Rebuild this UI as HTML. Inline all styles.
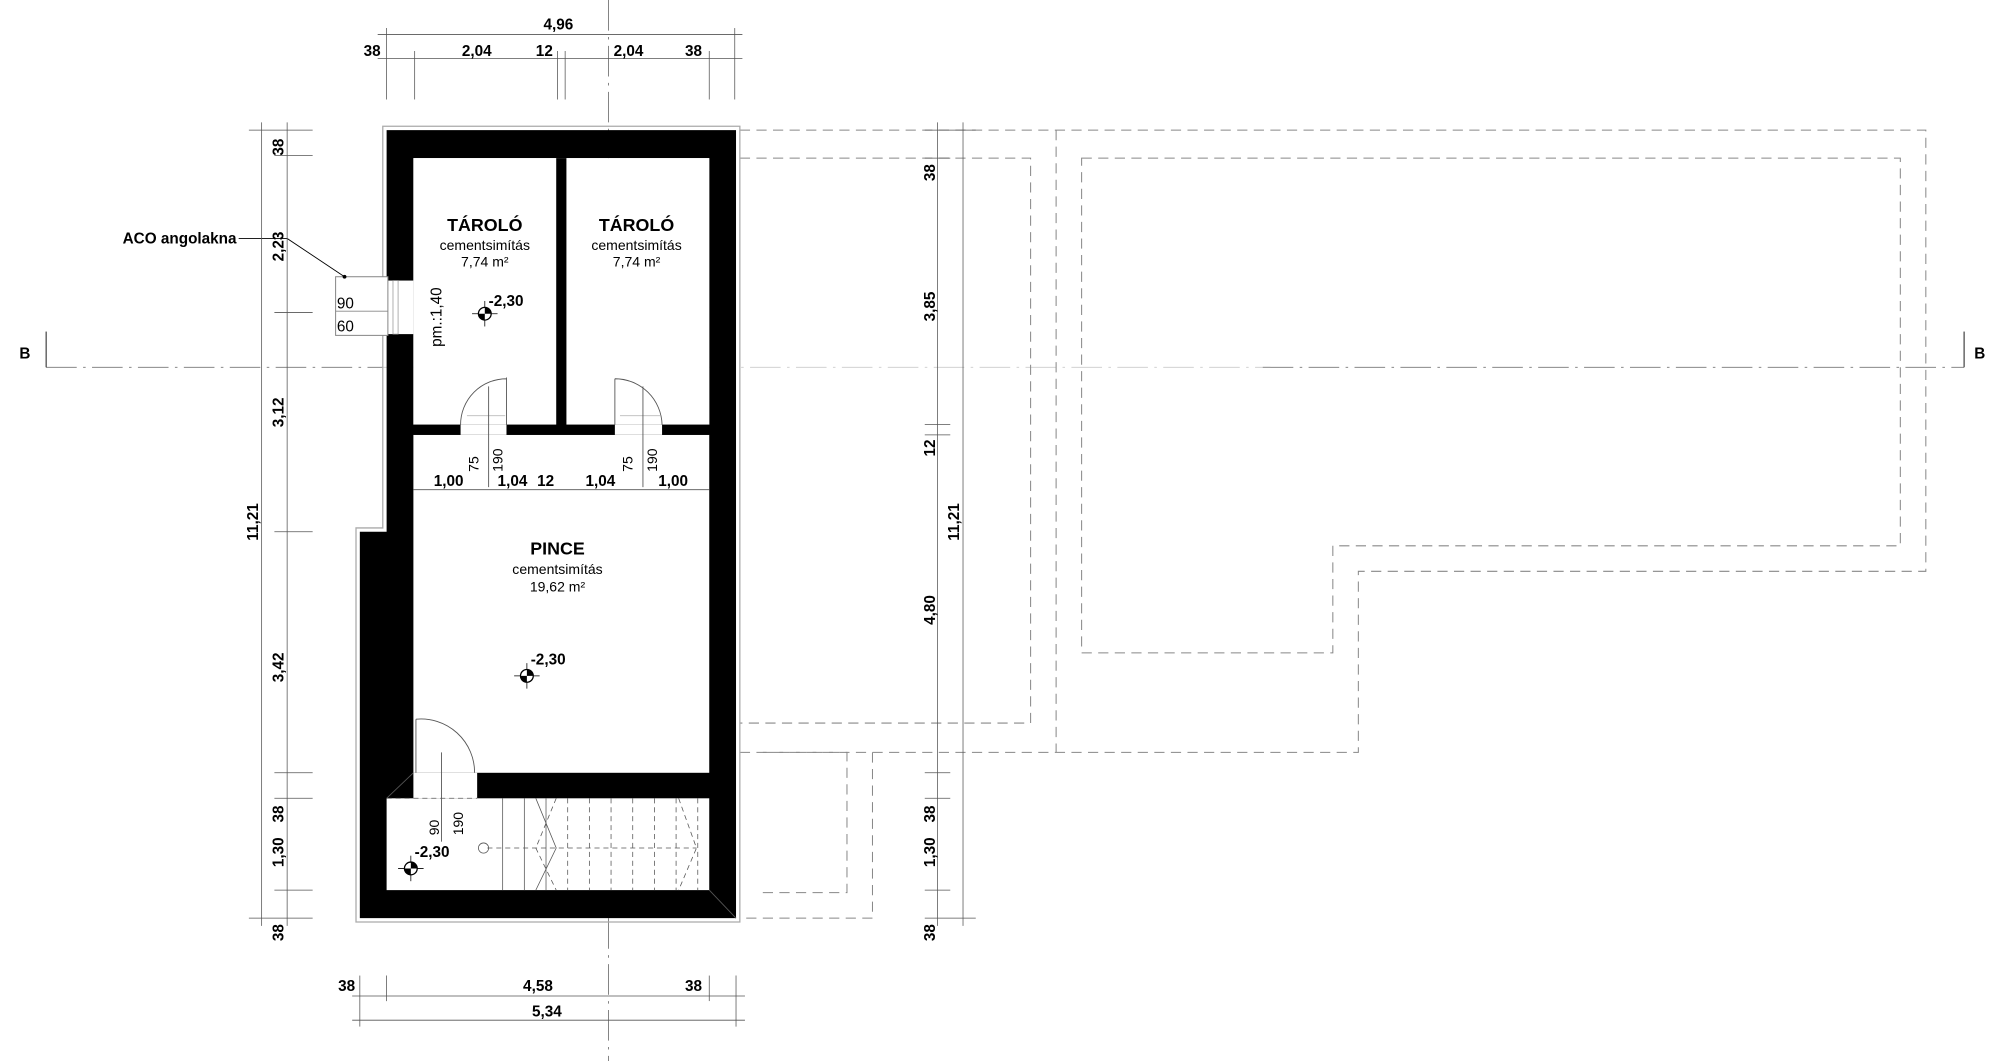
<!DOCTYPE html>
<html><head><meta charset="utf-8"><style>
html,body{margin:0;padding:0;background:#fff;}
svg{display:block;}
.d{font-family:"Liberation Sans",sans-serif;font-weight:bold;font-size:12px;fill:#000;}
.t{font-family:"Liberation Sans",sans-serif;fill:#000;}
</style></head><body>
<svg width="2000" height="1061" viewBox="0 0 1568 832" xmlns="http://www.w3.org/2000/svg">
<rect width="1568" height="832" fill="#fff"/>
<line x1="477" y1="0" x2="477" y2="832" stroke="#777" stroke-width="0.7" stroke-dasharray="24,5,2,5"/>
<line x1="36" y1="288" x2="300" y2="288" stroke="#777" stroke-width="0.7" stroke-dasharray="24,5,2,5"/>
<line x1="300" y1="288" x2="990" y2="288" stroke="#ccc" stroke-width="0.7" stroke-dasharray="24,5,2,5"/>
<line x1="990" y1="288" x2="1540" y2="288" stroke="#777" stroke-width="0.7" stroke-dasharray="24,5,2,5"/>
<line x1="36" y1="260" x2="36" y2="288" stroke="#000" stroke-width="0.7"/>
<line x1="1540" y1="260" x2="1540" y2="288" stroke="#000" stroke-width="0.7"/>
<text x="15" y="281" class="d" font-size="15">B</text>
<text x="1548" y="281" class="d" font-size="15">B</text>
<g fill="none" stroke="#888" stroke-width="0.8" stroke-dasharray="8,5">
<polyline points="580,102 1510,102 1510,448 1065,448 1065,590 580,590"/>
<line x1="828" y1="102" x2="828" y2="590"/>
<polyline points="580,124 808,124 808,567 580,567"/>
<polygon points="848,124 1490,124 1490,428 1045,428 1045,512 848,512"/>
<polyline points="598,590 664,590 664,700 598,700"/>
<polyline points="684,590 684,720 580,720"/>
</g>
<polygon points="300,99 580,99 580,723 279,723 279,414 300,414" fill="none" stroke="#aaa" stroke-width="1"/>
<path d="M303,102 H577 V720 H282 V417 H303 Z M324,124 V333 H556 V124 Z" fill="#000" fill-rule="evenodd"/>
<rect x="324" y="124" width="112" height="209" fill="#fff"/>
<rect x="444" y="124" width="112" height="209" fill="#fff"/>
<rect x="436" y="124" width="8" height="210" fill="#000"/>
<rect x="324" y="341" width="232" height="265" fill="#fff"/>
<rect x="303" y="626" width="253" height="72" fill="#fff"/>
<rect x="324" y="606" width="50" height="20" fill="#fff"/>
<rect x="324" y="333" width="232" height="8" fill="#000"/>
<rect x="361" y="333" width="36" height="8" fill="#fff"/>
<rect x="482" y="333" width="37" height="8" fill="#fff"/>
<rect x="303" y="220" width="21" height="42" fill="#fff"/>
<rect x="263" y="217" width="41" height="46" fill="#fff" stroke="#888" stroke-width="0.8"/>
<line x1="263" y1="244" x2="304" y2="244" stroke="#888" stroke-width="0.7"/>
<rect x="308" y="220" width="4" height="42" fill="none" stroke="#999" stroke-width="0.6"/>
<text x="264" y="242" class="t" font-size="12">90</text>
<text x="264" y="260" class="t" font-size="12">60</text>
<text x="346" y="272" class="t" font-size="12" transform="rotate(-90 346 272)">pm.:1,40</text>
<polyline points="187,187 225,187 270,217" fill="none" stroke="#000" stroke-width="0.7"/>
<circle cx="270" cy="217" r="1.5"/>
<text x="96" y="191" class="d" font-size="12">ACO angolakna</text>
<g fill="none" stroke="#555" stroke-width="0.7">
<path d="M397,296 V333 M361,333 A36,36 0 0 1 397,297"/>
<path d="M482,297 V333 M519,333 A37,37 0 0 0 482,297"/>
<path d="M326,564 V606 M326,564 A42,42 0 0 1 372,606"/>
<line x1="366" y1="326" x2="396" y2="326" stroke="#bbb"/>
<line x1="486" y1="326" x2="518" y2="326" stroke="#bbb"/>
<line x1="383" y1="303" x2="383" y2="382"/>
<line x1="504" y1="303" x2="504" y2="382"/>
<line x1="346" y1="590" x2="346" y2="660"/>
<line x1="303" y1="626" x2="324" y2="606"/>
<line x1="556" y1="698" x2="577" y2="720"/>
</g>
<g stroke="#555" stroke-width="0.6" fill="none">
<line x1="303" y1="626" x2="374" y2="626" stroke-dasharray="4,3"/>
<line x1="394" y1="626" x2="394" y2="698"/><line x1="411" y1="626" x2="411" y2="698"/>
<line x1="428" y1="626" x2="428" y2="698"/><line x1="445" y1="626" x2="445" y2="698" stroke-dasharray="4,3"/>
<line x1="462" y1="626" x2="462" y2="698" stroke-dasharray="4,3"/><line x1="479" y1="626" x2="479" y2="698" stroke-dasharray="4,3"/>
<line x1="496" y1="626" x2="496" y2="698" stroke-dasharray="4,3"/><line x1="513" y1="626" x2="513" y2="698" stroke-dasharray="4,3"/>
<line x1="530" y1="626" x2="530" y2="698" stroke-dasharray="4,3"/><line x1="547" y1="626" x2="547" y2="698" stroke-dasharray="4,3"/>
<polyline points="420,626 436,665 420,698"/>
<polyline points="436,626 420,665 436,698" stroke-dasharray="4,3"/>
<polyline points="532,626 546,665 532,698" stroke-dasharray="4,3"/>
<line x1="382" y1="665" x2="546" y2="665" stroke-dasharray="4,3"/>
<circle cx="379" cy="665" r="4"/>
</g>
<text x="380" y="181" class="t" font-size="14" font-weight="bold" text-anchor="middle">TÁROLÓ</text>
<text x="380" y="196" class="t" font-size="11" text-anchor="middle">cementsimítás</text>
<text x="380" y="209" class="t" font-size="11" text-anchor="middle">7,74 m²</text>
<text x="499" y="181" class="t" font-size="14" font-weight="bold" text-anchor="middle">TÁROLÓ</text>
<text x="499" y="196" class="t" font-size="11" text-anchor="middle">cementsimítás</text>
<text x="499" y="209" class="t" font-size="11" text-anchor="middle">7,74 m²</text>
<text x="437" y="435" class="t" font-size="14" font-weight="bold" text-anchor="middle">PINCE</text>
<text x="437" y="450" class="t" font-size="11" text-anchor="middle">cementsimítás</text>
<text x="437" y="464" class="t" font-size="11" text-anchor="middle">19,62 m²</text>
<g>
<g transform="translate(380,246)"><line x1="-10" y1="0" x2="10" y2="0" stroke="#000" stroke-width="0.6"/><line x1="0" y1="-10" x2="0" y2="10" stroke="#000" stroke-width="0.6"/><circle r="5" fill="#fff" stroke="#000"/><path d="M0,-5 A5,5 0 0 1 5,0 L0,0Z M0,5 A5,5 0 0 1 -5,0 L0,0Z"/></g>
<text x="383" y="240" class="d" font-size="13">-2,30</text>
<g transform="translate(413,530)"><line x1="-10" y1="0" x2="10" y2="0" stroke="#000" stroke-width="0.6"/><line x1="0" y1="-10" x2="0" y2="10" stroke="#000" stroke-width="0.6"/><circle r="5" fill="#fff" stroke="#000"/><path d="M0,-5 A5,5 0 0 1 5,0 L0,0Z M0,5 A5,5 0 0 1 -5,0 L0,0Z"/></g>
<text x="416" y="521" class="d" font-size="13">-2,30</text>
<g transform="translate(322,681)"><line x1="-10" y1="0" x2="10" y2="0" stroke="#000" stroke-width="0.6"/><line x1="0" y1="-10" x2="0" y2="10" stroke="#000" stroke-width="0.6"/><circle r="5" fill="#fff" stroke="#000"/><path d="M0,-5 A5,5 0 0 1 5,0 L0,0Z M0,5 A5,5 0 0 1 -5,0 L0,0Z"/></g>
<text x="325" y="672" class="d" font-size="13">-2,30</text>
</g>
<text x="375" y="370" class="t" font-size="11" transform="rotate(-90 375 370)">75</text>
<text x="394" y="370" class="t" font-size="11" transform="rotate(-90 394 370)">190</text>
<text x="496" y="370" class="t" font-size="11" transform="rotate(-90 496 370)">75</text>
<text x="515" y="370" class="t" font-size="11" transform="rotate(-90 515 370)">190</text>
<text x="344" y="655" class="t" font-size="11" transform="rotate(-90 344 655)">90</text>
<text x="363" y="655" class="t" font-size="11" transform="rotate(-90 363 655)">190</text>
<line x1="324" y1="384" x2="556" y2="384" stroke="#555" stroke-width="0.6"/>
<text x="340" y="381" class="d">1,00</text>
<text x="390" y="381" class="d">1,04</text>
<text x="421" y="381" class="d">12</text>
<text x="459" y="381" class="d">1,04</text>
<text x="516" y="381" class="d">1,00</text>
<g stroke="#555" stroke-width="0.6">
<line x1="296" y1="27" x2="582" y2="27"/>
<line x1="296" y1="46" x2="582" y2="46"/>
<line x1="303" y1="22" x2="303" y2="78"/><line x1="325" y1="40" x2="325" y2="78"/>
<line x1="437" y1="40" x2="437" y2="78"/><line x1="443" y1="40" x2="443" y2="78"/>
<line x1="556" y1="40" x2="556" y2="78"/><line x1="576" y1="22" x2="576" y2="78"/>
</g>
<text x="426" y="23" class="d" font-size="13">4,96</text>
<text x="285" y="44" class="d">38</text>
<text x="362" y="44" class="d">2,04</text>
<text x="420" y="44" class="d">12</text>
<text x="481" y="44" class="d">2,04</text>
<text x="537" y="44" class="d">38</text>
<g stroke="#555" stroke-width="0.6">
<line x1="276" y1="781" x2="584" y2="781"/>
<line x1="276" y1="800" x2="584" y2="800"/>
<line x1="282" y1="765" x2="282" y2="805"/><line x1="303" y1="765" x2="303" y2="785"/>
<line x1="556" y1="765" x2="556" y2="785"/><line x1="577" y1="765" x2="577" y2="805"/>
</g>
<text x="265" y="777" class="d">38</text>
<text x="410" y="777" class="d">4,58</text>
<text x="537" y="777" class="d">38</text>
<text x="417" y="797" class="d" font-size="13">5,34</text>
<g stroke="#555" stroke-width="0.6">
<line x1="205" y1="96" x2="205" y2="726"/>
<line x1="225" y1="96" x2="225" y2="726"/>
<line x1="195" y1="102" x2="245" y2="102"/><line x1="215" y1="122" x2="245" y2="122"/>
<line x1="215" y1="245" x2="245" y2="245"/><line x1="215" y1="417" x2="245" y2="417"/>
<line x1="215" y1="606" x2="245" y2="606"/><line x1="215" y1="626" x2="245" y2="626"/>
<line x1="215" y1="698" x2="245" y2="698"/><line x1="195" y1="720" x2="245" y2="720"/>
</g>
<text transform="translate(222,122) rotate(-90)" class="d">38</text>
<text transform="translate(222,205) rotate(-90)" class="d">2,23</text>
<text transform="translate(222,335) rotate(-90)" class="d">3,12</text>
<text transform="translate(222,535) rotate(-90)" class="d">3,42</text>
<text transform="translate(222,645) rotate(-90)" class="d">38</text>
<text transform="translate(222,680) rotate(-90)" class="d">1,30</text>
<text transform="translate(222,738) rotate(-90)" class="d">38</text>
<text transform="translate(202,424) rotate(-90)" class="d">11,21</text>
<g stroke="#555" stroke-width="0.6">
<line x1="735" y1="96" x2="735" y2="726"/>
<line x1="755" y1="96" x2="755" y2="726"/>
<line x1="725" y1="102" x2="765" y2="102"/><line x1="725" y1="124" x2="745" y2="124"/>
<line x1="725" y1="333" x2="745" y2="333"/><line x1="725" y1="341" x2="745" y2="341"/>
<line x1="725" y1="606" x2="745" y2="606"/><line x1="725" y1="626" x2="745" y2="626"/>
<line x1="725" y1="698" x2="745" y2="698"/><line x1="725" y1="720" x2="765" y2="720"/>
</g>
<text transform="translate(733,142) rotate(-90)" class="d">38</text>
<text transform="translate(733,252) rotate(-90)" class="d">3,85</text>
<text transform="translate(733,358) rotate(-90)" class="d">12</text>
<text transform="translate(733,490) rotate(-90)" class="d">4,80</text>
<text transform="translate(733,645) rotate(-90)" class="d">38</text>
<text transform="translate(733,680) rotate(-90)" class="d">1,30</text>
<text transform="translate(733,738) rotate(-90)" class="d">38</text>
<text transform="translate(752,424) rotate(-90)" class="d">11,21</text>
</svg>
</body></html>
